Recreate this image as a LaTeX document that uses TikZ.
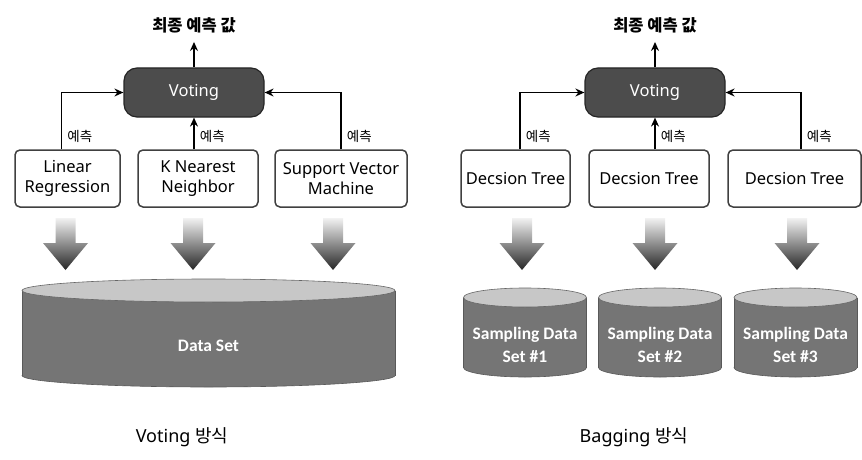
\documentclass[tikz,border=0pt]{standalone}
\usepackage{fontspec}
\setmainfont{Noto Sans}
\newfontfamily\kr{Noto Sans CJK KR}
\newfontfamily\calfont{Carlito}
\usetikzlibrary{arrows.meta}

\begin{document}
\begin{tikzpicture}[x=1pt, y=-1pt,
    model/.style={draw=black!75, line width=1.5pt, rounded corners=5pt, align=center,
      minimum height=57pt, inner sep=2pt, font=\fontsize{16.5}{20}\selectfont, fill=white},
    vote/.style={draw=black!85, line width=1.2pt, fill=black!70, rounded corners=13pt,
      minimum width=140pt, minimum height=49pt, text=white, font=\fontsize{16.5}{20}\selectfont},
    link/.style={-{Stealth[length=9pt, width=8pt]}, line width=1.7pt, color=black},
    pred/.style={font=\kr\fontsize{13.5}{16}\selectfont, inner sep=5pt},
    final/.style={font=\kr\bfseries\fontsize{16.5}{20}\selectfont, inner sep=9pt},
    method/.style={font=\fontsize{18}{22}\selectfont},
    dbtext/.style={font=\calfont\bfseries\fontsize{17.5}{23}\selectfont, text=white, align=center},
    drum/.style={fill=black!54, draw=black!65, line width=0.6pt},
    drumlid/.style={fill=black!22, draw=black!60, line width=0.6pt},
    drop/.style={top color=black!5, middle color=black!75, bottom color=black!85}]
  \useasboundingbox (0,0) rectangle (862,460);
  % voting
  \node[final] (f1) at (194,25) {최종 예측 값};
  \node[vote] (v1) at (194,92.5) {Voting};
  \node[model, minimum width=105pt] (lr) at (67.5,178.5) {Linear\\Regression};
  \node[model, minimum width=120pt] (knn) at (198,178.5) {K Nearest\\Neighbor};
  \node[model, minimum width=132pt] (svm) at (341,178.5) {Support Vector\\Machine};
  \draw[link] (v1.north) -- (f1.south);
  \draw[link] ([xshift=-6pt]lr.north) |- node[pred, right, pos=0.11] {예측} (v1.west);
  \draw[link] (v1.south |- knn.north) -- node[pred, right, pos=0.4] {예측} (v1.south);
  \draw[link] (svm.north) |- node[pred, right, pos=0.11] {예측} (v1.east);
  % bagging
  \node[final] (f2) at (655,25) {최종 예측 값};
  \node[vote] (v2) at (655,92.5) {Voting};
  \node[model, minimum width=109pt] (dt1) at (515.5,178.5) {Decsion Tree};
  \node[model, minimum width=120pt] (dt2) at (649,178.5) {Decsion Tree};
  \node[model, minimum width=133pt] (dt3) at (794.5,178.5) {Decsion Tree};
  \draw[link] (v2.north) -- (f2.south);
  \draw[link] ([xshift=4.5pt]dt1.north) |- node[pred, right, pos=0.11] {예측} (v2.west);
  \draw[link] (v2.south |- dt2.north) -- node[pred, right, pos=0.4] {예측} (v2.south);
  \draw[link] ([xshift=6.5pt]dt3.north) |- node[pred, right, pos=0.11] {예측} (v2.east);
  % thick arrows
  \foreach \x in {65.5,193,333,522,655,797}
    \shade[drop] (\x-10,218) -- (\x+10,218) -- (\x+10,243) -- (\x+22.5,243) -- (\x,270)
      -- (\x-22.5,243) -- (\x-10,243) -- cycle;
  % data set
  \filldraw[drum] (208.5,375.5) ellipse [x radius=186.5, y radius=11.5];
  \fill[drum, draw=none] (22,290.5) rectangle (395,375.5);
  \draw[drum, fill=none] (22,290.5) -- (22,375.5) (395,290.5) -- (395,375.5);
  \filldraw[drumlid] (208.5,290.5) ellipse [x radius=186.5, y radius=11.5];
  \node[dbtext] (ds) at (208.5,346) {Data Set};
  % sampling data sets
  \foreach \cx/\n in {525/1, 660/2, 795.5/3} {
    \filldraw[drum] (\cx,367.5) ellipse [x radius=61.5, y radius=9.5];
    \fill[drum, draw=none] (\cx-61.5,297.5) rectangle (\cx+61.5,367.5);
    \draw[drum, fill=none] (\cx-61.5,297.5) -- (\cx-61.5,367.5) (\cx+61.5,297.5) -- (\cx+61.5,367.5);
    \filldraw[drumlid] (\cx,297.5) ellipse [x radius=61.5, y radius=9.5];
    \node[dbtext] (s\n) at (\cx,345) {Sampling Data\\Set \#\n};
  }
  \node[method] (c1) at (182,437) {Voting {\kr 방식}};
  \node[method] (c2) at (634,437) {Bagging {\kr 방식}};
\end{tikzpicture}
\end{document}
